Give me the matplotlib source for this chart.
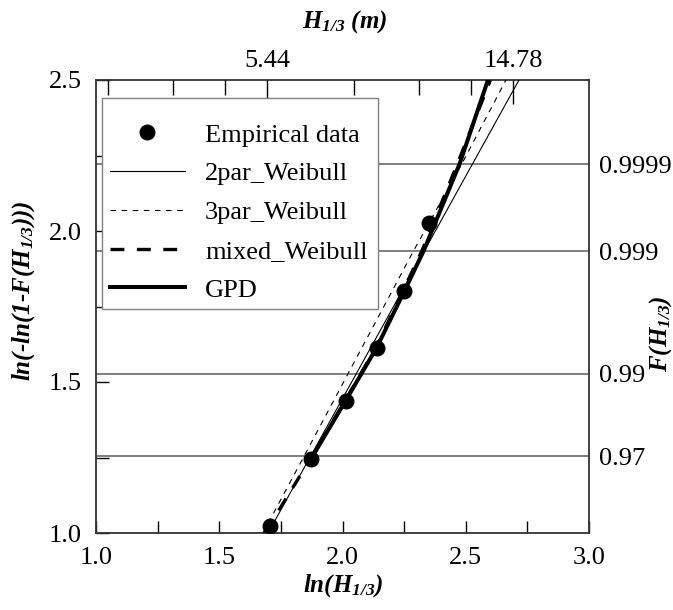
import numpy as np
import matplotlib
matplotlib.use("Agg")
import matplotlib.pyplot as plt
from matplotlib.lines import Line2D
from matplotlib.patches import Rectangle

plt.rcParams['font.family'] = ['Liberation Serif', 'DejaVu Serif']
plt.rcParams['mathtext.fontset'] = 'custom'
plt.rcParams['mathtext.rm'] = 'Liberation Serif'
plt.rcParams['mathtext.it'] = 'Liberation Serif:italic'
plt.rcParams['mathtext.bf'] = 'Liberation Serif:italic:bold'
plt.rcParams['lines.scale_dashes'] = False

# ---- data ----
emp_x = [1.706, 1.872, 2.014, 2.140, 2.249, 2.351]
emp_y = [1.023, 1.245, 1.437, 1.613, 1.801, 2.026]

w2_x = [1.698, 2.716]
w2_y = [1.0, 2.5]

w3_x = [1.677, 1.838, 2.288, 2.484, 2.663]
w3_y = [1.0, 1.245, 1.934, 2.222, 2.5]

mix_x = [1.686, 1.767, 1.870, 2.010, 2.135, 2.245, 2.322, 2.466, 2.600]
mix_y = [1.0, 1.109, 1.245, 1.437, 1.613, 1.801, 1.934, 2.222, 2.5]

gpd_x = [1.872, 2.012, 2.138, 2.251, 2.329, 2.475, 2.590]
gpd_y = [1.245, 1.437, 1.613, 1.801, 1.934, 2.222, 2.5]

F_levels = [0.97, 0.99, 0.999, 0.9999]
F_labels = ['0.97', '0.99', '0.999', '0.9999']

top_major_H = [5.44, 14.78]
top_major_labels = ['5.44', '14.78']
top_minor_H = [2.85, 3.71, 4.58, 7.75, 10.06, 12.42]

x_ticks = [1.0, 1.5, 2.0, 2.5, 3.0]
y_ticks = [1.0, 1.5, 2.0, 2.5]

FS = 19
LFS = 18

fig = plt.figure(figsize=(6.73, 6.10), dpi=100)
W, H = 673, 610
ax = fig.add_axes([96 / W, 1 - 533 / H, 493 / W, 453 / H])
ax.set_xlim(1.0, 3.0)
ax.set_ylim(1.0, 2.5)

F_y = [np.log(-np.log(1 - f)) for f in F_levels]
for yv in F_y:
    ax.axhline(yv, color='#6a6a6a', lw=1.2, zorder=1)

ax.plot(w2_x, w2_y, color='black', lw=0.8, zorder=3, label='2par_Weibull')
ax.plot(w3_x, w3_y, color='black', lw=0.8, dashes=(4, 4), zorder=3, label='3par_Weibull')
ax.plot(mix_x, mix_y, color='black', lw=2.4, dashes=(10, 9), zorder=3, label='mixed_Weibull')
ax.plot(gpd_x, gpd_y, color='black', lw=2.9, zorder=4, label='GPD')
ax.plot(emp_x, emp_y, 'o', color='black', ms=10.5, zorder=5, label='Empirical data')

ax.set_xticks(x_ticks)
ax.set_xticklabels(['%.1f' % v for v in x_ticks])
ax.set_xticks(np.arange(1.25, 3.0, 0.5), minor=True)
ax.set_yticks(y_ticks)
ax.set_yticklabels(['%.1f' % v for v in y_ticks])
ax.set_yticks(np.arange(1.25, 2.5, 0.5), minor=True)
ax.tick_params(axis='both', which='both', direction='in', length=9, width=1,
               labelsize=FS, top=False, right=False)
ax.tick_params(axis='x', which='both', pad=10)
ax.tick_params(axis='y', which='both', pad=10)
for s in ax.spines.values():
    s.set_linewidth(1.3)
    s.set_color('#333333')

ax.set_xlabel(r'$\mathbf{ln(H_{1/3})}$', fontsize=LFS, va='center', ha='center')
ax.xaxis.set_label_coords(0.501, -0.115)
ax.set_ylabel('$\\mathbf{ln(\u2010ln(1\u2010F(H_{1/3})))}$', fontsize=LFS,
              va='center', ha='center')
ax.yaxis.set_label_coords(-0.147, 0.535)

# top axis
axt = ax.twiny()
axt.set_xlim(ax.get_xlim())
axt.set_xticks(np.log(top_major_H))
axt.set_xticklabels(top_major_labels)
axt.set_xticks(np.log(top_minor_H), minor=True)
axt.tick_params(axis='x', which='major', direction='in', length=17, width=1, labelsize=FS, pad=6)
axt.tick_params(axis='x', which='minor', direction='in', length=11, width=1)
axt.set_xlabel(r'$\mathbf{H_{1/3}\ (m)}$', fontsize=LFS, va='center', ha='center')
axt.xaxis.set_label_coords(0.505, 1.13)

# right axis
axr = ax.twinx()
axr.set_ylim(ax.get_ylim())
axr.set_yticks(F_y)
axr.set_yticklabels(F_labels)
axr.tick_params(axis='y', length=0, labelsize=FS, pad=7)
axr.set_ylabel(r'$\mathbf{F(H_{1/3})}$', fontsize=LFS, rotation=90,
               va='center', ha='center')
axr.yaxis.set_label_coords(1.145, 0.44)

for a in (axt, axr):
    for s in a.spines.values():
        s.set_visible(False)

# legend frame
frame = Rectangle((0.0122, 0.4945), 0.560, 0.466, transform=ax.transAxes,
                  facecolor='white', edgecolor='#808080', lw=1.0, zorder=9)
axr.add_patch(frame)

handles = [
    Line2D([], [], ls='none', marker='o', color='black', ms=10.5),
    Line2D([], [], color='black', lw=0.8),
    Line2D([], [], color='black', lw=0.8, dashes=(4, 4)),
    Line2D([], [], color='black', lw=2.4, dashes=(10, 9)),
    Line2D([], [], color='black', lw=2.9),
]
labels = ['Empirical data', '2par_Weibull', '3par_Weibull', 'mixed_Weibull', 'GPD']
leg = axr.legend(handles, labels, loc='upper left', bbox_to_anchor=(0.0284, 0.905),
                 bbox_transform=ax.transAxes, borderaxespad=0, fontsize=FS,
                 frameon=False, handlelength=2.84, handletextpad=0.76,
                 labelspacing=0.58, borderpad=0.0, numpoints=1)
leg.set_zorder(10)

fig.savefig('out.png', dpi=100)
